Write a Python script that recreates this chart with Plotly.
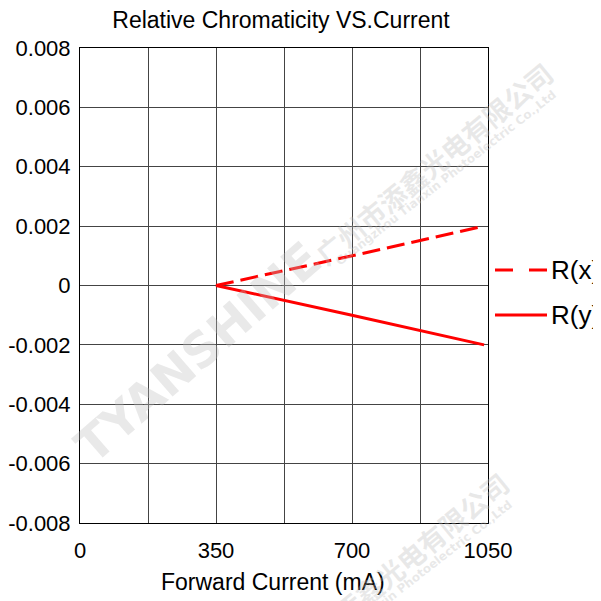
import plotly.graph_objects as go

# ---- data ----
current_ma = [350, 700, 1040]
rx_values = [0.0, 0.001, 0.002]
ry_values = [0.0, -0.001, -0.002]
series_names = ["R(x)", "R(y)"]
x_tick_vals = [0, 175, 350, 525, 700, 875, 1050]
x_tick_text = ["0", "", "350", "", "700", "", "1050"]
y_tick_vals = [0.008, 0.006, 0.004, 0.002, 0, -0.002, -0.004, -0.006, -0.008]
y_tick_text = ["0.008", "0.006", "0.004", "0.002", "0", "-0.002", "-0.004", "-0.006", "-0.008"]
x_title = "Forward Current (mA)"
chart_title = "Relative Chromaticity VS.Current"

# page body has an 8px margin, so the figure starts at (8, 8) on screen
OFF = 8
W, H = 593, 593
L, T = 80 - OFF, 48 - OFF
PW, PH = 408, 475
R, B = W - L - PW, H - T - PH


def px(x):  # screen x -> paper
    return (x - 80) / PW


def py(y):  # screen y -> paper
    return (523 - y) / PH


FONT = "Liberation Sans, Arial, sans-serif"
RED = "#ff0000"

fig = go.Figure()
dashes = ["18px,7px", "solid"]
for name, vals, dash in zip(series_names, [rx_values, ry_values], dashes):
    fig.add_trace(go.Scatter(x=current_ma, y=vals, mode="lines", name=name,
                             line=dict(color=RED, width=3, dash=dash),
                             showlegend=False))

annotations = []
shapes = []
# manual legend
legend_dash = ["18px,16px", "solid"]
for i, (name, d) in enumerate(zip(series_names, legend_dash)):
    yy = py(270 + 45 * i)
    shapes.append(dict(type="line", xref="paper", yref="paper",
                       x0=px(495), x1=px(547), y0=yy, y1=yy,
                       line=dict(color=RED, width=3, dash=d)))
    annotations.append(dict(text=name, xref="paper", yref="paper",
                            x=px(549), y=yy, xanchor="left", yanchor="middle",
                            showarrow=False, font=dict(family=FONT, size=26, color="black")))

# x axis title
annotations.append(dict(text=x_title, xref="paper", yref="paper",
                        x=px(273), y=py(582), xanchor="center", yanchor="middle",
                        showarrow=False, font=dict(family=FONT, size=23, color="black")))

# watermark
WM = "rgba(190,190,190,0.34)"
for dx, dy in [(0, 0), (-44, 410)]:
    annotations.append(dict(text="<b>TYANSHINE</b>", xref="paper", yref="paper",
                            x=px(198 + dx), y=py(352 + dy), textangle=-41,
                            xanchor="center", yanchor="middle",
                            showarrow=False, font=dict(family="DejaVu Sans, sans-serif", size=48, color=WM)))
    annotations.append(dict(text="<b>广州市添鑫光电有限公司</b>", xref="paper", yref="paper",
                            x=px(433 + dx), y=py(163 + dy), textangle=-39.5,
                            xanchor="center", yanchor="middle",
                            showarrow=False, font=dict(family="Noto Sans CJK SC", size=27, color=WM)))
    annotations.append(dict(text="<b>Guangzhou Tianxin Photoelectric Co.,Ltd</b>", xref="paper", yref="paper",
                            x=px(446 + dx), y=py(178 + dy), textangle=-38,
                            xanchor="center", yanchor="middle",
                            showarrow=False, font=dict(family="DejaVu Sans, sans-serif", size=12, color=WM)))

fig.update_layout(
    width=W, height=H,
    margin=dict(l=L, r=R, t=T, b=B),
    paper_bgcolor="white", plot_bgcolor="white",
    font=dict(family=FONT, size=22, color="black"),
    title=dict(text=chart_title, x=(281 - OFF) / W, xanchor="center",
               y=1 - (20 - OFF) / H, yanchor="middle", font=dict(size=23)),
    xaxis=dict(range=[0, 1050], tickvals=x_tick_vals, ticktext=x_tick_text,
               showgrid=True, gridcolor="#444", gridwidth=1, zeroline=False,
               showline=True, linecolor="black", linewidth=1, mirror=True, automargin=False,
               ticks="", ticklabelstandoff=8, tickfont=dict(size=22)),
    yaxis=dict(range=[-0.008, 0.008], tickvals=y_tick_vals, ticktext=y_tick_text,
               showgrid=True, gridcolor="#444", gridwidth=1, zeroline=False,
               showline=True, linecolor="black", linewidth=1, mirror=True, automargin=False,
               ticks="", ticklabelstandoff=4, tickfont=dict(size=22)),
    annotations=annotations, shapes=shapes,
)

fig.write_html("out.html")
